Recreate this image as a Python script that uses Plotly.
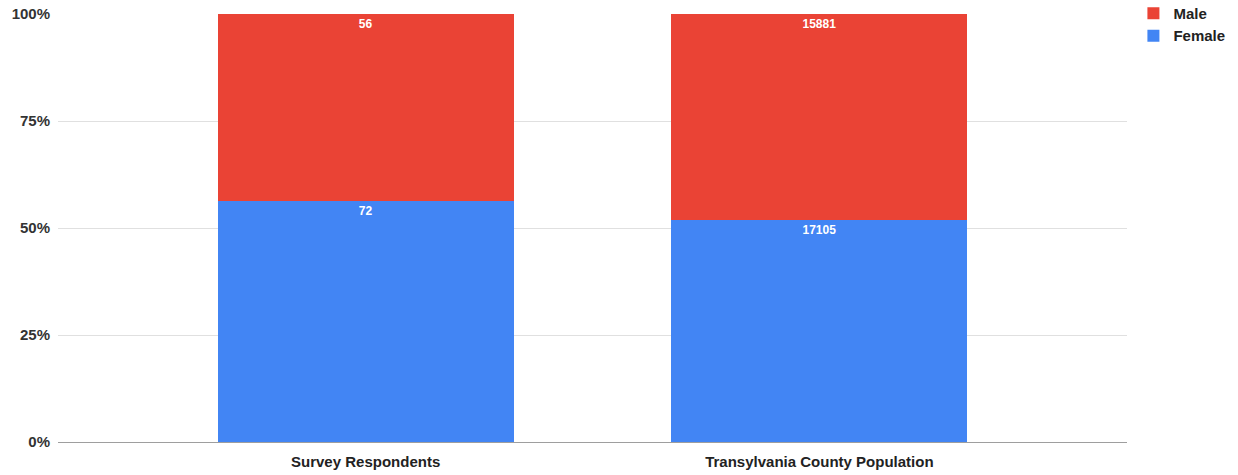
import plotly.graph_objects as go

categories = ["Survey Respondents", "Transylvania County Population"]
female = [72, 17105]
male = [56, 15881]
tick_vals = [0, 25, 50, 75, 100]
tick_text = ["0%", "25%", "50%", "75%", "100%"]

fig = go.Figure()
fig.add_trace(go.Bar(
    name="Female", x=categories, y=female, marker_color="#4285F4",
    text=[str(v) for v in female], textposition="inside", insidetextanchor="end",
    textfont=dict(color="white", size=12, family="Liberation Sans", weight="bold"),
    width=0.652, marker_line_width=0,
))
fig.add_trace(go.Bar(
    name="Male", x=categories, y=male, marker_color="#EA4335",
    text=[str(v) for v in male], textposition="inside", insidetextanchor="end",
    textfont=dict(color="white", size=12, family="Liberation Sans", weight="bold"),
    width=0.652, marker_line_width=0,
))
fig.update_layout(
    barmode="stack", barnorm="percent",
    width=1238, height=475,
    margin=dict(l=58, r=111, t=14, b=33, autoexpand=False),
    plot_bgcolor="white", paper_bgcolor="white",
    font=dict(family="Liberation Sans", color="#222222"),
    showlegend=True,
    legend=dict(x=1.006, y=1.04, xanchor="left", yanchor="top", traceorder="reversed",
                font=dict(size=15, color="#222222", family="Liberation Sans", weight="bold"),
                itemwidth=30, tracegroupgap=0, bgcolor="rgba(0,0,0,0)"),
    uniformtext=dict(minsize=8, mode="show"),
)
fig.update_xaxes(range=[-0.678, 1.678], showgrid=False, showline=False, ticks="",
                 ticklabelstandoff=9,
                 tickfont=dict(size=15, color="#222222", family="Liberation Sans", weight="bold"))
fig.update_yaxes(range=[0, 100], tickvals=tick_vals, ticktext=tick_text,
                 showgrid=True, gridcolor="#E0E0E0", zeroline=True, zerolinecolor="#9E9E9E",
                 zerolinewidth=1, ticks="", ticklen=0, ticklabelstandoff=7,
                 tickfont=dict(size=15, color="#333333", family="Liberation Sans", weight="bold"))
fig.write_html("out.html", config={"displayModeBar": False},
               post_script="document.body.style.margin='0';document.body.style.overflow='hidden';")
